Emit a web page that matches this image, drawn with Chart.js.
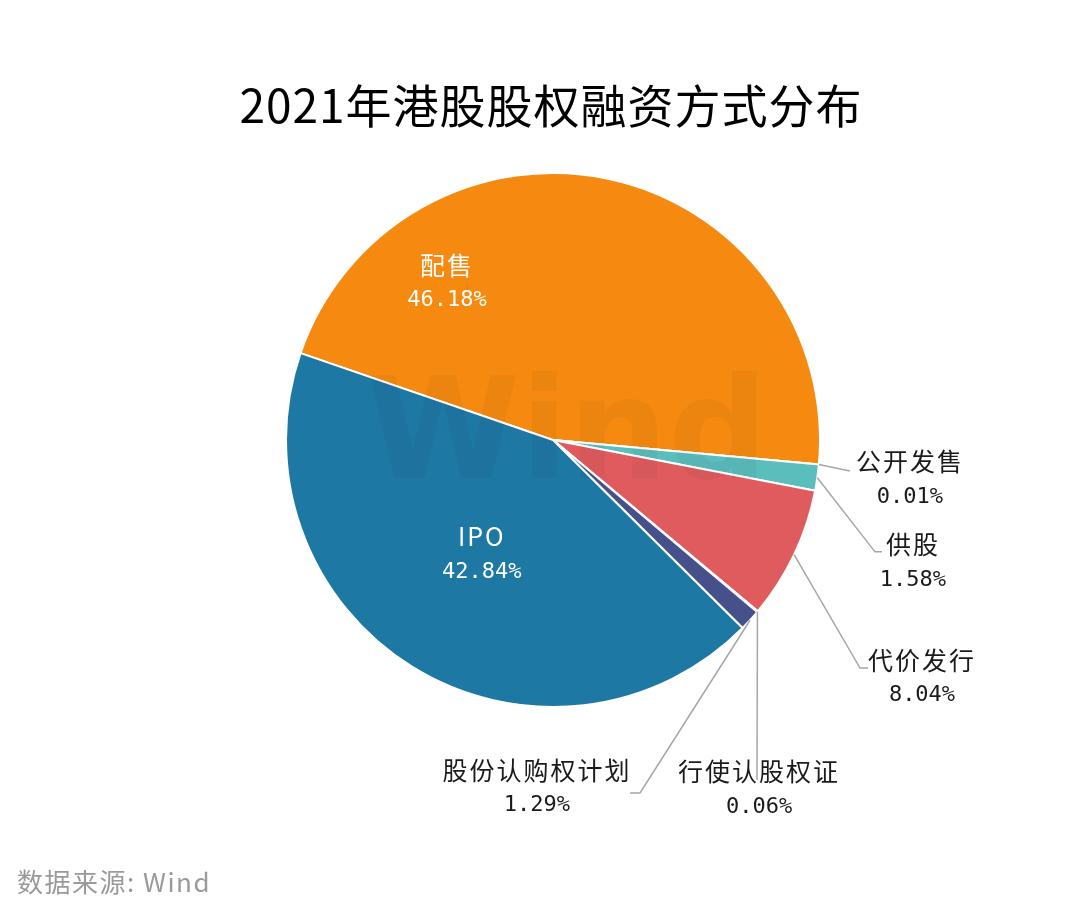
<!DOCTYPE html>
<html>
<head>
<meta charset="utf-8">
<script src="https://cdn.jsdelivr.net/npm/chart.js@4.4.1/dist/chart.umd.min.js"></script>
<style>
    body { margin: 0; background: #fff; }
</style>
</head>
<body>
<canvas id="pieChart" width="1080" height="913"></canvas>
<script>
// 数据
const categories = ["配售", "公开发售", "供股", "代价发行", "行使认股权证", "股份认购权计划", "IPO"];
const shares = [46.18, 0.01, 1.58, 8.04, 0.06, 1.29, 42.84];
const sliceColors = ["#F68A10", "#A5A5A5", "#5ABEBD", "#E05B5D", "#7F7F7F", "#46508A", "#1E78A4"];

// 标签位置 (以半径为单位, 相对圆心)
const labelPlaces = [
    { inside: true, angle: -124, r: 0.71 },
    { knee: [1.112, 0.116], tail: 0, text: [1.337, 0.082] },
    { knee: [1.206, 0.419], tail: 7, text: [1.348, 0.393] },
    { knee: [1.150, 0.854], tail: 8, text: [1.382, 0.824] },
    { knee: [0.764, 1.273], tail: 0, text: [0.772, 1.243] },
    { knee: [0.326, 1.322], tail: -10, text: [-0.060, 1.236] },
    { inside: true, r: 0.505 },
];

function drawTwoLines(ctx, x, y, name, pct, color) {
    ctx.fillStyle = color;
    ctx.textAlign = "center";
    ctx.textBaseline = "middle";
    ctx.font = '25px "Noto Sans CJK SC"';
    ctx.letterSpacing = "2px";
    ctx.fillText(name, x, y);
    ctx.font = '22px "DejaVu Sans Mono"';
    ctx.letterSpacing = "0px";
    ctx.fillText(pct.toFixed(2) + "%", x, y + 35);
}

const pieDecor = {
    id: "pieDecor",
    afterDatasetsDraw(chart) {
        const ctx = chart.ctx;
        const arcs = chart.getDatasetMeta(0).data;
        const first = arcs[0].getProps(["x", "y", "outerRadius"], true);
        const cx = first.x, cy = first.y, R = first.outerRadius;

        ctx.save();
        // 水印
        ctx.fillStyle = "rgba(30, 30, 30, 0.045)";
        ctx.font = 'bold 140px "DejaVu Sans"';
        ctx.textAlign = "center";
        ctx.textBaseline = "alphabetic";
        ctx.fillText("Wind", cx + 14, cy + 38);

        arcs.forEach((arc, i) => {
            const p = arc.getProps(["startAngle", "endAngle"], true);
            const mid = (p.startAngle + p.endAngle) / 2;
            const place = labelPlaces[i];
            if (place.inside) {
                const a = place.angle !== undefined ? place.angle * Math.PI / 180 : mid;
                const lx = cx + Math.cos(a) * R * place.r;
                const ly = cy + Math.sin(a) * R * place.r;
                drawTwoLines(ctx, lx, ly - 17.5, categories[i], shares[i], "#ffffff");
            } else {
                const sx = cx + Math.cos(mid) * R;
                const sy = cy + Math.sin(mid) * R;
                const kx = cx + place.knee[0] * R;
                const ky = cy + place.knee[1] * R;
                ctx.strokeStyle = "#A6A6A6";
                ctx.lineWidth = 1.5;
                ctx.beginPath();
                ctx.moveTo(sx, sy);
                ctx.lineTo(kx, ky);
                ctx.lineTo(kx + place.tail, ky);
                ctx.stroke();
                drawTwoLines(ctx, cx + place.text[0] * R, cy + place.text[1] * R,
                    categories[i], shares[i], "#1a1a1a");
            }
        });
        ctx.restore();
    },
    afterDraw(chart) {
        const ctx = chart.ctx;
        ctx.save();
        ctx.fillStyle = "#000";
        ctx.textAlign = "center";
        ctx.textBaseline = "middle";
        ctx.font = '46px "Noto Sans CJK SC"';
        ctx.letterSpacing = "1px";
        ctx.fillText("2021年港股股权融资方式分布", 551, 106);

        ctx.fillStyle = "#9A9A9A";
        ctx.textAlign = "left";
        ctx.font = '26px "Noto Sans CJK SC"';
        ctx.letterSpacing = "1.5px";
        ctx.fillText("数据来源: Wind", 17, 882);
        ctx.restore();
    },
};

const ctx = document.getElementById("pieChart").getContext("2d");
new Chart(ctx, {
    type: "pie",
    data: {
        labels: categories,
        datasets: [
            {
                data: shares,
                backgroundColor: sliceColors,
                borderColor: "#ffffff",
                borderWidth: 2,
                hoverOffset: 0,
            },
        ],
    },
    options: {
        responsive: false,
        animation: false,
        rotation: -71,
        layout: {
            padding: { top: 172, bottom: 205, left: 285, right: 259 },
        },
        plugins: {
            legend: { display: false },
            tooltip: { enabled: false },
            title: { display: false },
        },
    },
    plugins: [pieDecor],
});
</script>
</body>
</html>
